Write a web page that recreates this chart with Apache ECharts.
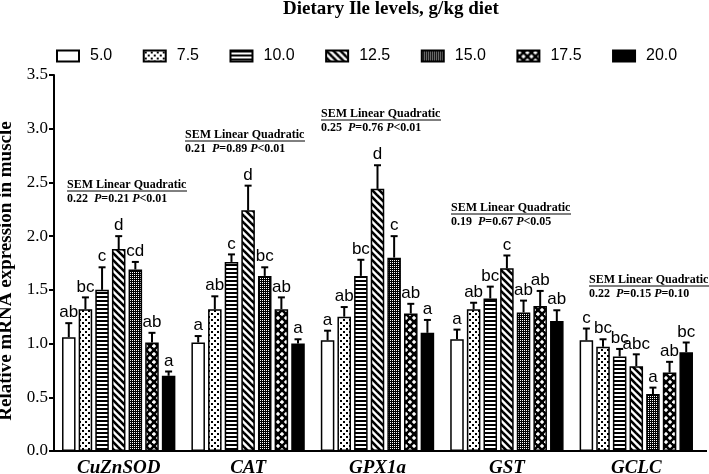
<!DOCTYPE html>
<html>
<head>
<meta charset="utf-8">
<script src="https://cdn.jsdelivr.net/npm/echarts@6/dist/echarts.min.js"></script>
<style>
  html, body { margin: 0; padding: 0; background: #fff; }
  #chart { width: 709px; height: 474px; }
</style>
</head>
<body>
<div id="chart"></div>
<script>
// genes on the x axis
const categories = ['CuZnSOD', 'CAT', 'GPX1a', 'GST', 'GCLC']
// dietary Ile levels (legend)
const levels = ['5.0', '7.5', '10.0', '12.5', '15.0', '17.5', '20.0']
const yTicks = [0, 0.5, 1.0, 1.5, 2.0, 2.5, 3.0, 3.5]

// mean relative expression, one array per gene, ordered by level
const meanCuZnSOD = [1.06, 1.32, 1.50, 1.88, 1.69, 1.01, 0.70]
const meanCAT = [1.01, 1.32, 1.76, 2.24, 1.63, 1.32, 1.00]
const meanGPX1a = [1.03, 1.25, 1.63, 2.44, 1.80, 1.28, 1.10]
const meanGST = [1.04, 1.32, 1.42, 1.70, 1.29, 1.35, 1.21]
const meanGCLC = [1.03, 0.97, 0.88, 0.79, 0.53, 0.73, 0.92]

// error bar (SE) heights
const errCuZnSOD = [0.13, 0.11, 0.21, 0.12, 0.07, 0.09, 0.04]
const errCAT = [0.06, 0.12, 0.07, 0.23, 0.08, 0.11, 0.04]
const errGPX1a = [0.09, 0.09, 0.15, 0.22, 0.20, 0.09, 0.12]
const errGST = [0.09, 0.06, 0.11, 0.12, 0.11, 0.14, 0.10]
const errGCLC = [0.11, 0.07, 0.07, 0.11, 0.06, 0.10, 0.09]

// significance letters
const letCuZnSOD = ['ab', 'bc', 'c', 'd', 'cd', 'ab', 'a']
const letCAT = ['a', 'ab', 'c', 'd', 'bc', 'ab', 'a']
const letGPX1a = ['a', 'ab', 'bc', 'd', 'c', 'ab', 'a']
const letGST = ['a', 'ab', 'bc', 'c', 'ab', 'ab', 'ab']
const letGCLC = ['c', 'bc', 'bc', 'abc', 'a', 'ab', 'bc']

// SEM / linear / quadratic stats per gene
const statSEM = ['0.22', '0.21', '0.25', '0.19', '0.22']
const statLinear = ['=0.21', '=0.89', '=0.76', '=0.67', '=0.15']
const statQuad = ['<0.01', '<0.01', '<0.01', '<0.05', '=0.10']

const means = [meanCuZnSOD, meanCAT, meanGPX1a, meanGST, meanGCLC]
const errs = [errCuZnSOD, errCAT, errGPX1a, errGST, errGCLC]
const lets = [letCuZnSOD, letCAT, letGPX1a, letGST, letGCLC]

// where the stat boxes sit (left x, baseline of first line)
const statPos = [[67, 189], [185, 139], [321, 118], [451, 212], [589, 284]]

const SERIF = "'Liberation Serif', 'Times New Roman', serif"
const SANS = "'Liberation Sans', Arial, sans-serif"

// fill patterns
function makePattern (w, h, draw) {
  const c = document.createElement('canvas')
  c.width = w
  c.height = h
  const ctx = c.getContext('2d')
  ctx.fillStyle = '#fff'
  ctx.fillRect(0, 0, w, h)
  ctx.fillStyle = '#000'
  ctx.strokeStyle = '#000'
  draw(ctx, w, h)
  return { image: c, repeat: 'repeat' }
}
function diamond (ctx, cx, cy, r) {
  ctx.beginPath()
  ctx.moveTo(cx, cy - r)
  ctx.lineTo(cx + r, cy)
  ctx.lineTo(cx, cy + r)
  ctx.lineTo(cx - r, cy)
  ctx.closePath()
  ctx.fill()
}
const fills = [
  '#fff',
  makePattern(6, 6, function (ctx) {
    ctx.fillRect(1, 1, 2, 2)
    ctx.fillRect(4, 4, 2, 2)
  }),
  makePattern(4, 4, function (ctx) {
    ctx.fillRect(0, 0, 4, 2)
  }),
  makePattern(7, 7, function (ctx) {
    ctx.lineWidth = 2.6
    for (let k = -1; k <= 1; k++) {
      ctx.beginPath()
      ctx.moveTo(k * 7 - 1, -1)
      ctx.lineTo(k * 7 + 8, 8)
      ctx.stroke()
    }
  }),
  makePattern(2, 2, function (ctx) {
    ctx.fillRect(0, 0, 2, 2)
    ctx.fillStyle = '#fff'
    ctx.fillRect(0, 0, 1, 1)
  }),
  makePattern(8, 8, function (ctx) {
    ctx.fillRect(0, 0, 8, 8)
    ctx.fillStyle = '#fff'
    diamond(ctx, 2, 2, 2.2)
    diamond(ctx, 6, 6, 2.2)
  }),
  '#000'
]

const CAT_GAP = 0.124
const BAR_GAP = 0.23

const barSeries = levels.map(function (lv, i) {
  return {
    name: lv,
    type: 'bar',
    barGap: (BAR_GAP * 100) + '%',
    barCategoryGap: (CAT_GAP * 100) + '%',
    itemStyle: { color: fills[i], borderColor: '#000', borderWidth: 1.5 },
    data: categories.map(function (c, g) { return means[g][i] })
  }
})

// error bars + letters drawn on top of the bars
const errData = []
categories.forEach(function (c, g) {
  levels.forEach(function (lv, i) {
    errData.push([g, i, means[g][i], means[g][i] + errs[g][i]])
  })
})

const errSeries = {
  type: 'custom',
  z: 5,
  clip: false,
  silent: true,
  data: errData,
  renderItem: function (params, api) {
    const g = api.value(0)
    const i = api.value(1)
    const band = api.size([1, 0])[0]
    const groupW = band * (1 - CAT_GAP)
    const bw = groupW / (7 + 6 * BAR_GAP)
    const x = api.coord([g, 0])[0] + (i - 3) * bw * (1 + BAR_GAP)
    const yTop = api.coord([g, api.value(2)])[1]
    const yHi = api.coord([g, api.value(3)])[1]
    return {
      type: 'group',
      children: [
        { type: 'line', shape: { x1: x, y1: yTop, x2: x, y2: yHi }, style: { stroke: '#000', lineWidth: 2 } },
        { type: 'line', shape: { x1: x - 3.5, y1: yHi, x2: x + 3.5, y2: yHi }, style: { stroke: '#000', lineWidth: 2 } },
        {
          type: 'text',
          x: x,
          y: yHi - 2,
          style: {
            text: lets[g][i],
            fill: '#000',
            fontFamily: SANS,
            fontSize: 17,
            align: 'center',
            verticalAlign: 'bottom'
          }
        }
      ]
    }
  }
}

// stat annotations
const graphics = []
statPos.forEach(function (p, g) {
  graphics.push({
    type: 'text',
    x: p[0],
    y: p[1] - 4,
    style: {
      text: 'SEM Linear Quadratic',
      fill: '#000',
      fontFamily: SERIF,
      fontWeight: 'bold',
      fontSize: 12,
      verticalAlign: 'middle'
    }
  })
  graphics.push({
    type: 'line',
    shape: { x1: p[0], y1: p[1] + 2, x2: p[0] + 120, y2: p[1] + 2 },
    style: { stroke: '#000', lineWidth: 1 }
  })
  graphics.push({
    type: 'text',
    x: p[0],
    y: p[1] + 10,
    style: {
      text: '{n|' + statSEM[g] + '  }{i|P}{n|' + statLinear[g] + ' }{i|P}{n|' + statQuad[g] + '}',
      verticalAlign: 'middle',
      rich: {
        n: { fontFamily: SERIF, fontWeight: 'bold', fontSize: 12, fill: '#000' },
        i: { fontFamily: SERIF, fontWeight: 'bold', fontStyle: 'italic', fontSize: 12, fill: '#000' }
      }
    }
  })
})
// x axis line runs a little past the last group
graphics.push({
  type: 'line',
  shape: { x1: 700, y1: 451, x2: 707, y2: 451 },
  style: { stroke: '#000', lineWidth: 2 }
})

const myChart = echarts.init(document.getElementById('chart'), null, { renderer: 'canvas' })
const option = {
  animation: false,
  backgroundColor: '#fff',
  title: {
    text: 'Dietary Ile levels, g/kg diet',
    left: 283,
    top: 0,
    padding: 0,
    textStyle: { fontFamily: SERIF, fontWeight: 'bold', fontSize: 19, color: '#000' }
  },
  legend: {
    data: levels,
    left: 56,
    top: 48,
    padding: 0,
    icon: 'rect',
    itemWidth: 22,
    itemHeight: 11,
    itemGap: 30.5,
    textStyle: { fontFamily: SANS, fontSize: 16, color: '#000', padding: [0, 0, 0, 6] }
  },
  grid: { left: 54, right: 8, top: 75, bottom: 23, containLabel: false, outerBoundsMode: 'none' },
  xAxis: {
    type: 'category',
    data: categories,
    axisLine: { lineStyle: { color: '#000', width: 2 } },
    axisTick: { alignWithLabel: true, length: 5, lineStyle: { color: '#000', width: 2 } },
    axisLabel: {
      margin: 8,
      fontFamily: SERIF,
      fontWeight: 'bold',
      fontStyle: 'italic',
      fontSize: 19,
      color: '#000'
    }
  },
  yAxis: {
    type: 'value',
    min: yTicks[0],
    max: yTicks[yTicks.length - 1],
    interval: 0.5,
    name: 'Relative mRNA expression in muscle',
    nameLocation: 'middle',
    nameGap: 31,
    nameTextStyle: { fontFamily: SERIF, fontWeight: 'bold', fontSize: 19, color: '#000', padding: [0, 16, 0, 0] },
    splitLine: { show: false },
    axisLine: { show: true, lineStyle: { color: '#000', width: 2 } },
    axisTick: { show: true, length: 5, lineStyle: { color: '#000', width: 2 } },
    axisLabel: {
      margin: 6,
      fontFamily: SERIF,
      fontSize: 17,
      color: '#000',
      formatter: function (v) { return v.toFixed(1) }
    }
  },
  graphic: graphics,
  series: barSeries.concat([errSeries])
}
myChart.setOption(option)
</script>
</body>
</html>
